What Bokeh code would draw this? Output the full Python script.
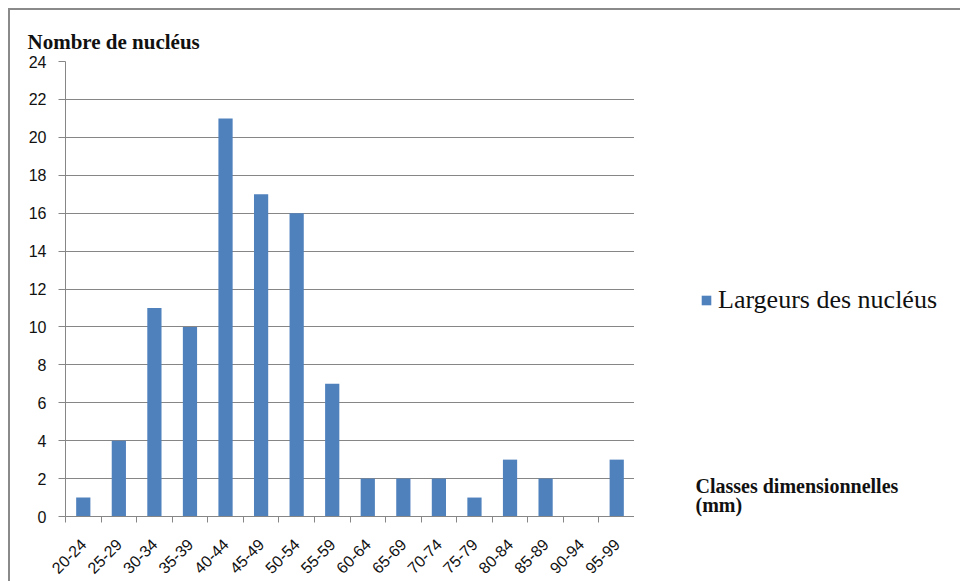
import math
from bokeh.plotting import figure
from bokeh.layouts import row
from bokeh.models import (ColumnDataSource, FixedTicker, Legend, LegendItem, Range1d, Label)
from bokeh.embed import file_html
from bokeh.resources import INLINE

classes = ["20-24", "25-29", "30-34", "35-39", "40-44", "45-49", "50-54", "55-59",
           "60-64", "65-69", "70-74", "75-79", "80-84", "85-89", "90-94", "95-99"]
counts = [1, 4, 11, 10, 21, 17, 16, 7, 2, 2, 2, 1, 3, 2, 0, 3]
y_ticks = list(range(0, 25, 2))
series_name = "Largeurs des nucléus"
y_title = "Nombre de nucléus"
x_title = ["Classes dimensionnelles", "(mm)"]

BAR = "#4F81BD"
GRID = "#868686"
TXT = "#111111"

pos = [i + 1 for i in range(len(classes))]
bounds = [i + 0.5 for i in range(len(classes) + 1)]
src = ColumnDataSource(dict(x=pos, top=counts, label=classes))

# main chart
p = figure(width=624, height=571, output_backend="svg", toolbar_location=None,
           x_range=Range1d(0.5, len(classes) + 0.5), y_range=Range1d(0, 24),
           min_border_left=55, min_border_right=0, min_border_top=51, min_border_bottom=64,
           title=y_title)
p.outline_line_color = None
p.title.align = "left"
p.title.vertical_align = "top"
p.title.offset = -38
p.title.standoff = 12
p.title.text_font = "Liberation Serif"
p.title.text_font_style = "bold"
p.title.text_font_size = "21px"
p.title.text_color = TXT

r = p.vbar(x="x", top="top", width=0.4, source=src, fill_color=BAR, line_color=None)

p.yaxis.ticker = FixedTicker(ticks=y_ticks)
p.yaxis.axis_line_color = GRID
p.yaxis.major_tick_line_color = GRID
p.yaxis.major_tick_out = 7
p.yaxis.major_tick_in = 0
p.yaxis.minor_tick_line_color = None
p.yaxis.major_label_text_font = "Liberation Sans"
p.yaxis.major_label_text_font_size = "16px"
p.yaxis.major_label_text_color = TXT
p.yaxis.major_label_standoff = 12

p.xaxis.ticker = FixedTicker(ticks=pos, minor_ticks=bounds)
p.xaxis.major_label_overrides = {i + 1: c for i, c in enumerate(classes)}
p.xaxis.major_tick_line_color = None
p.xaxis.minor_tick_line_color = GRID
p.xaxis.minor_tick_out = 6
p.xaxis.minor_tick_in = 0
p.xaxis.axis_line_color = GRID
p.xaxis.major_label_orientation = math.pi / 4
p.xaxis.major_label_text_font = "Liberation Sans"
p.xaxis.major_label_text_font_size = "16px"
p.xaxis.major_label_text_color = TXT
p.xaxis.major_label_standoff = 19

p.xgrid.grid_line_color = None
p.ygrid.ticker = FixedTicker(ticks=y_ticks)
p.ygrid.grid_line_color = GRID
p.ygrid.grid_line_width = 1

# side panel (its frame lines up with the chart's frame) holding legend and axis note
q = figure(width=326, height=571, output_backend="svg", toolbar_location=None,
           x_range=Range1d(0, 1), y_range=Range1d(0, 1),
           x_axis_type=None, y_axis_type=None,
           min_border_left=0, min_border_right=0, min_border_top=51, min_border_bottom=64)
q.outline_line_color = None
q.grid.visible = False
swatch = q.vbar(x="x", top="top", width=0.4, source=src, fill_color=BAR, line_color=None,
                visible=False)

legend = Legend(items=[LegendItem(label=series_name, renderers=[swatch])],
                location=(66, 201), margin=0, padding=0, spacing=0,
                border_line_color=None, background_fill_alpha=0,
                inactive_fill_alpha=0,
                glyph_width=12, glyph_height=12, label_standoff=6,
                label_text_font="Liberation Serif", label_text_font_size="26px",
                label_text_color=TXT, label_height=24)
q.add_layout(legend, "center")

q.add_layout(Label(x=61, y=31, x_units="screen", y_units="screen", text=x_title[0],
                   text_font="Liberation Serif", text_font_style="bold",
                   text_font_size="20px", text_baseline="middle", text_color=TXT))
q.add_layout(Label(x=61, y=1, x_units="screen", y_units="screen", text=x_title[1],
                   text_font="Liberation Serif", text_font_style="bold",
                   text_font_size="20px", text_baseline="bottom", text_color=TXT))

layout = row(p, q)
layout.styles = {"margin-top": "8px", "margin-left": "8px",
                 "border-top": "2px solid #8a8a8a", "border-left": "2px solid #8a8a8a"}

open("out.html", "w").write(file_html(layout, INLINE))
